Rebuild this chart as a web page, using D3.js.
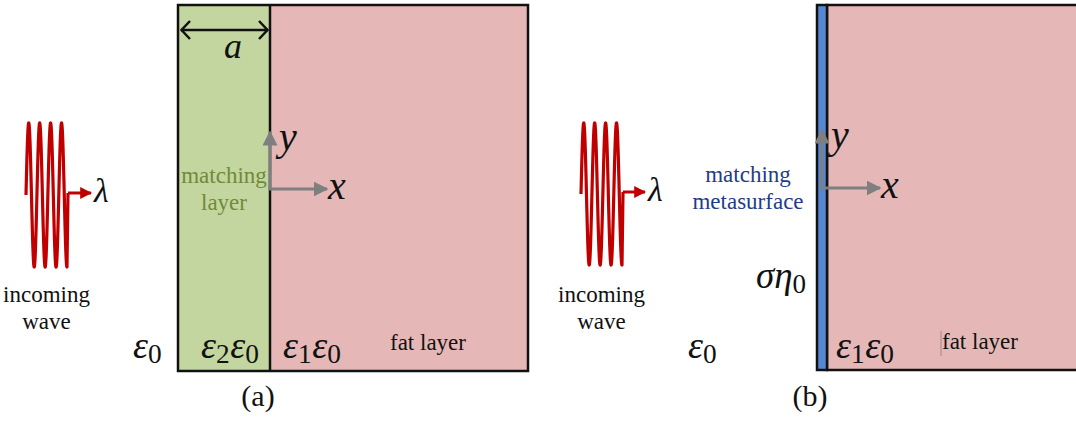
<!DOCTYPE html>
<html>
<head>
<meta charset="utf-8">
<script src="https://cdn.jsdelivr.net/npm/d3@7"></script>
<style>
  body { margin: 0; background: #fff; }
  svg { display: block; }
</style>
</head>
<body>
<svg id="fig" width="1076" height="421"></svg>
<script>
// Figure content
const panelTags = ["(a)", "(b)"];
const waveWords = ["incoming", "wave"];
const matchingLayerWords = ["matching", "layer"];
const metasurfaceWords = ["matching", "metasurface"];
const fatLayerLabel = "fat layer";
const waveCrests = [4, 4];             // crests drawn in each incoming-wave glyph
const thicknessLabel = "a";
const axisNames = ["x", "y"];

const SERIF = "Liberation Serif";
const C = {
  green: "#c3d69f", pink: "#e5b8b7", blue: "#5587d4", red: "#c00000",
  gray: "#7f7f7f", greenText: "#6f8a3a", blueText: "#1f3c88", ink: "#111"
};

const svg = d3.select("#fig");
const defs = svg.append("defs");
function marker(id, color, size) {
  defs.append("marker").attr("id", id).attr("viewBox", "0 0 10 10")
    .attr("refX", 9).attr("refY", 5).attr("markerUnits", "userSpaceOnUse")
    .attr("markerWidth", size).attr("markerHeight", size).attr("orient", "auto")
    .append("path").attr("d", "M0,0 L10,5 L0,10 Z").attr("fill", color);
}
marker("ah-gray", C.gray, 15);
marker("ah-red", C.red, 12);

function txt(g, x, y, s, size, opts = {}) {
  const t = g.append("text").attr("x", x).attr("y", y).attr("font-family", SERIF)
    .attr("font-size", size).attr("fill", opts.fill || C.ink).text(s);
  if (opts.italic) t.attr("font-style", "italic");
  if (opts.anchor) t.attr("text-anchor", opts.anchor);
  return t;
}

// math label: italic symbol + upright subscript, repeated
function mathLabel(g, x, y, parts, size) {
  const t = g.append("text").attr("x", x).attr("y", y).attr("fill", C.ink)
    .attr("font-family", SERIF).attr("font-size", size);
  parts.forEach(([sym, sub]) => {
    t.append("tspan").attr("font-style", "italic").text(sym);
    if (sub !== undefined) {
      t.append("tspan").attr("dy", size * 0.12).attr("font-size", size * 0.72).text(sub);
      t.append("tspan").attr("dy", -size * 0.12).attr("font-size", size * 0.05).text(" ");
    }
  });
  return t;
}

// Incoming wave glyph: vertical oscillation ending at its last trough,
// a short riser back to the centre line, then an arrow labelled λ
function waveGlyph(g, x0, x1, yMid, amp, crests, arrowEnd) {
  const span = crests - 0.25;
  const xs = d3.scaleLinear().domain([0, span]).range([x0, x1]);
  const pts = d3.range(0, span + 1e-9, span / 400).map(p => [xs(p), yMid - amp * Math.sin(2 * Math.PI * p)]);
  pts.push([x1 + 1, yMid - 2]);
  g.append("path").attr("d", d3.line()(pts)).attr("fill", "none")
    .attr("stroke", C.red).attr("stroke-width", 3.2).attr("stroke-linejoin", "round");
  g.append("line").attr("x1", x1 + 1).attr("y1", yMid - 2).attr("x2", arrowEnd).attr("y2", yMid - 2)
    .attr("stroke", C.red).attr("stroke-width", 3).attr("marker-end", "url(#ah-red)");
  txt(g, arrowEnd + 3, yMid + 7, "\u03BB", 34, { italic: true });
  const cx = (x0 + x1) / 2;
  waveWords.forEach((w, i) => txt(g, cx, 302 + i * 27, w, 23, { anchor: "middle" }));
}

function axes(g, ox, oy, up, right) {
  g.append("line").attr("x1", ox).attr("y1", oy).attr("x2", ox).attr("y2", up)
    .attr("stroke", C.gray).attr("stroke-width", 3).attr("marker-end", "url(#ah-gray)");
  g.append("line").attr("x1", ox - 1.5).attr("y1", oy).attr("x2", right).attr("y2", oy)
    .attr("stroke", C.gray).attr("stroke-width", 3).attr("marker-end", "url(#ah-gray)");
  txt(g, right + 1, oy + 10, axisNames[0], 40, { italic: true });
  txt(g, ox + 9, up + 18, axisNames[1], 40, { italic: true });
}

// ---------- Panel (a) ----------
const ga = svg.append("g");
const yTop = 5, yBot = 371;
ga.append("rect").attr("x", 178).attr("y", yTop).attr("width", 92).attr("height", yBot - yTop).attr("fill", C.green);
ga.append("rect").attr("x", 270).attr("y", yTop).attr("width", 258).attr("height", yBot - yTop).attr("fill", C.pink);
ga.append("rect").attr("x", 178).attr("y", yTop).attr("width", 350).attr("height", yBot - yTop)
  .attr("fill", "none").attr("stroke", C.ink).attr("stroke-width", 2.5);
ga.append("line").attr("x1", 270).attr("y1", yTop).attr("x2", 270).attr("y2", yBot)
  .attr("stroke", C.ink).attr("stroke-width", 2.5);

// thickness arrow "a"
ga.append("line").attr("x1", 181).attr("y1", 30).attr("x2", 268).attr("y2", 30).attr("stroke", C.ink).attr("stroke-width", 2.5);
ga.append("path").attr("d", "M190,21 L181.5,30 L190,39 M259,21 L267.5,30 L259,39")
  .attr("fill", "none").attr("stroke", C.ink).attr("stroke-width", 2.5);
txt(ga, 233, 58, thicknessLabel, 36, { italic: true, anchor: "middle" });

matchingLayerWords.forEach((w, i) => txt(ga, 224, 183 + i * 27, w, 23, { anchor: "middle", fill: C.greenText }));

axes(ga, 270, 189, 132, 327);

waveGlyph(ga, 26, 67, 195, 72, waveCrests[0], 91);
mathLabel(ga, 133, 358, [["\u03B5", "0"]], 38);
mathLabel(ga, 201, 358, [["\u03B5", "2"], ["\u03B5", "0"]], 38);
mathLabel(ga, 283, 358, [["\u03B5", "1"], ["\u03B5", "0"]], 38);
txt(ga, 390, 350, fatLayerLabel, 23);
txt(ga, 258, 406, panelTags[0], 30, { anchor: "middle" });

// ---------- Panel (b) ----------
const gb = svg.append("g");
gb.append("rect").attr("x", 827).attr("y", yTop).attr("width", 260).attr("height", yBot - yTop - 1).attr("fill", C.pink)
  .attr("stroke", C.ink).attr("stroke-width", 2.5);
gb.append("rect").attr("x", 817).attr("y", yTop).attr("width", 10).attr("height", yBot - yTop - 1).attr("fill", C.blue)
  .attr("stroke", C.ink).attr("stroke-width", 2.5);

axes(gb, 822, 188, 130, 880);

metasurfaceWords.forEach((w, i) => txt(gb, 748, 182 + i * 27, w, 23, { anchor: "middle", fill: C.blueText }));

waveGlyph(gb, 581, 622, 194, 71, waveCrests[1], 645);
const sig = gb.append("text").attr("x", 756).attr("y", 288).attr("font-family", SERIF).attr("font-size", 37).attr("fill", C.ink);
sig.append("tspan").attr("font-style", "italic").text("\u03C3\u03B7");
sig.append("tspan").attr("dy", 5).attr("font-size", 27).text("0");
mathLabel(gb, 688, 358, [["\u03B5", "0"]], 38);
mathLabel(gb, 836, 358, [["\u03B5", "1"], ["\u03B5", "0"]], 38);
gb.append("line").attr("x1", 941).attr("y1", 331).attr("x2", 941).attr("y2", 356).attr("stroke", "#9a8a8a").attr("stroke-width", 1);
txt(gb, 942, 349, fatLayerLabel, 23);
txt(gb, 810, 406, panelTags[1], 30, { anchor: "middle" });
</script>
</body>
</html>
